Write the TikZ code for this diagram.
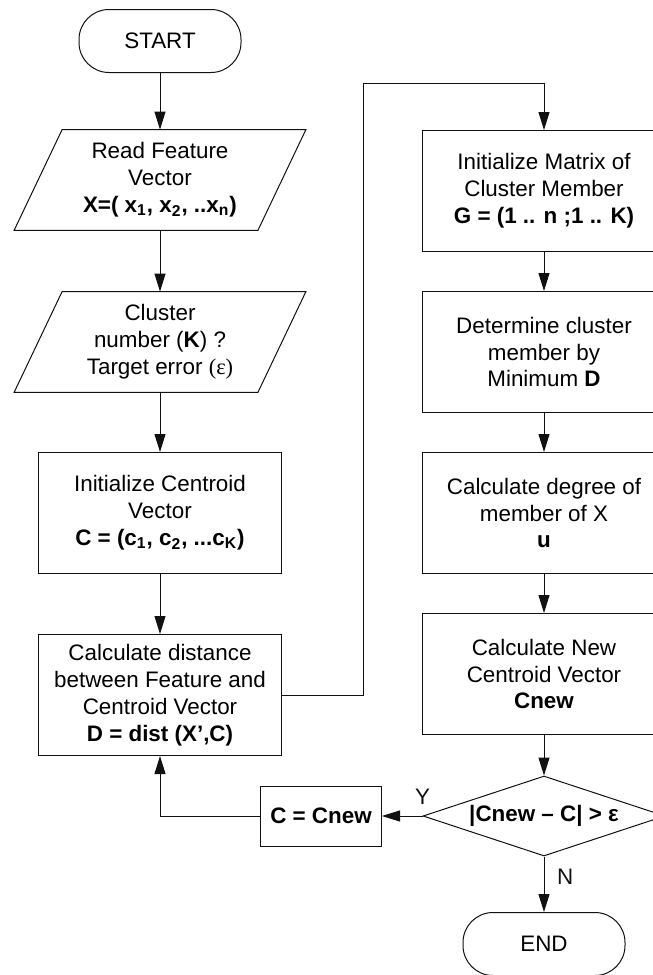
\documentclass[tikz,border=0pt]{standalone}
\usepackage{fontspec}
\setmainfont{Liberation Sans}
\newfontfamily\serifsym{Liberation Serif}
\usepackage{tikz}
\usetikzlibrary{positioning, arrows.meta, calc, shapes.geometric}
\definecolor{lineBlack}{HTML}{111111}

\begin{document}
\begin{tikzpicture}[x=0.5pt, y=-0.5pt,
    every node/.style={font=\fontsize{11.2}{13.4}\selectfont, align=center},
    procbox/.style={draw=lineBlack, line width=0.5pt, minimum width=121.5pt, minimum height=60.5pt, inner sep=0pt},
    iobox/.style={minimum width=121.5pt, minimum height=50pt, inner sep=0pt},
    termbox/.style={draw=lineBlack, line width=0.5pt, rounded corners=15pt, minimum width=81pt, minimum height=31.5pt},
    decbox/.style={draw=lineBlack, line width=0.5pt, diamond, aspect=3, minimum width=121pt, minimum height=40pt, inner sep=0pt},
    flow/.style={-{Triangle[length=9pt, width=5.5pt]}, line width=0.5pt, lineBlack}]
        \useasboundingbox (0,0) rectangle (653,975);
        % Left column
        \node[termbox] (start) at (160, 41) {START};
        \node[iobox] (read) at (160, 180) {Read Feature\\Vector\\\textbf{X=( x\textsubscript{1}, x\textsubscript{2}, ..x\textsubscript{n})}};
        \node[iobox] (cnum) at (160, 342) {Cluster\\number (\textbf{K}) ?\\Target error {\serifsym(ε)}};
        \node[procbox] (init) at (160, 513) {Initialize Centroid\\Vector\\\textbf{C = (c\textsubscript{1}, c\textsubscript{2}, ...c\textsubscript{K})}};
        \node[procbox] (dist) at (160, 695) {Calculate distance\\between Feature and\\Centroid Vector\\\textbf{D = dist (X’,C)}};
        % Input shapes (slanted)
        \foreach \n in {read, cnum} {
          \draw[lineBlack, line width=0.5pt]
            ($(\n.south west)+(-24,0)$) -- ($(\n.south east)+(-24,0)$)
            -- ($(\n.north east)+(24,0)$) -- ($(\n.north west)+(24,0)$) -- cycle;
        }
        % Right column
        \node[procbox] (gmat) at (544, 191) {Initialize Matrix of\\Cluster Member\\\textbf{G = (1 .. n ;1 .. K)}};
        \node[procbox] (member) at (544, 352) {Determine cluster\\member by\\Minimum \textbf{D}};
        \node[procbox] (degree) at (544, 513) {Calculate degree of\\member of X\\\textbf{u}};
        \node[procbox] (cnew) at (544, 674) {Calculate New\\Centroid Vector\\\textbf{Cnew}};
        \node[decbox] (test) at (544, 816) {\textbf{|Cnew – C| > ε}};
        \node[procbox, minimum width=60.5pt, minimum height=30pt] (upd) at (321, 816) {\textbf{C = Cnew}};
        \node[termbox] (stop) at (544, 944) {END};
        % Connectors
        \draw[flow] (start) -- (read);
        \draw[flow] (read) -- (cnum);
        \draw[flow] (cnum) -- (init);
        \draw[flow] (init) -- (dist);
        \coordinate (loop) at (363, 83);
        \draw[flow] (dist.east) -| (loop) -| (gmat.north);
        \draw[flow] (gmat) -- (member);
        \draw[flow] (member) -- (degree);
        \draw[flow] (degree) -- (cnew);
        \draw[flow] (cnew) -- (test);
        \draw[flow] (test.west) -- node[pos=0, above=2pt] {Y} (upd.east);
        \draw[flow] (upd.west) -| (dist.south);
        \draw[flow] (test.south) -- node[pos=0.37, right=3pt] {N} (stop.north);
      \end{tikzpicture}
\end{document}
